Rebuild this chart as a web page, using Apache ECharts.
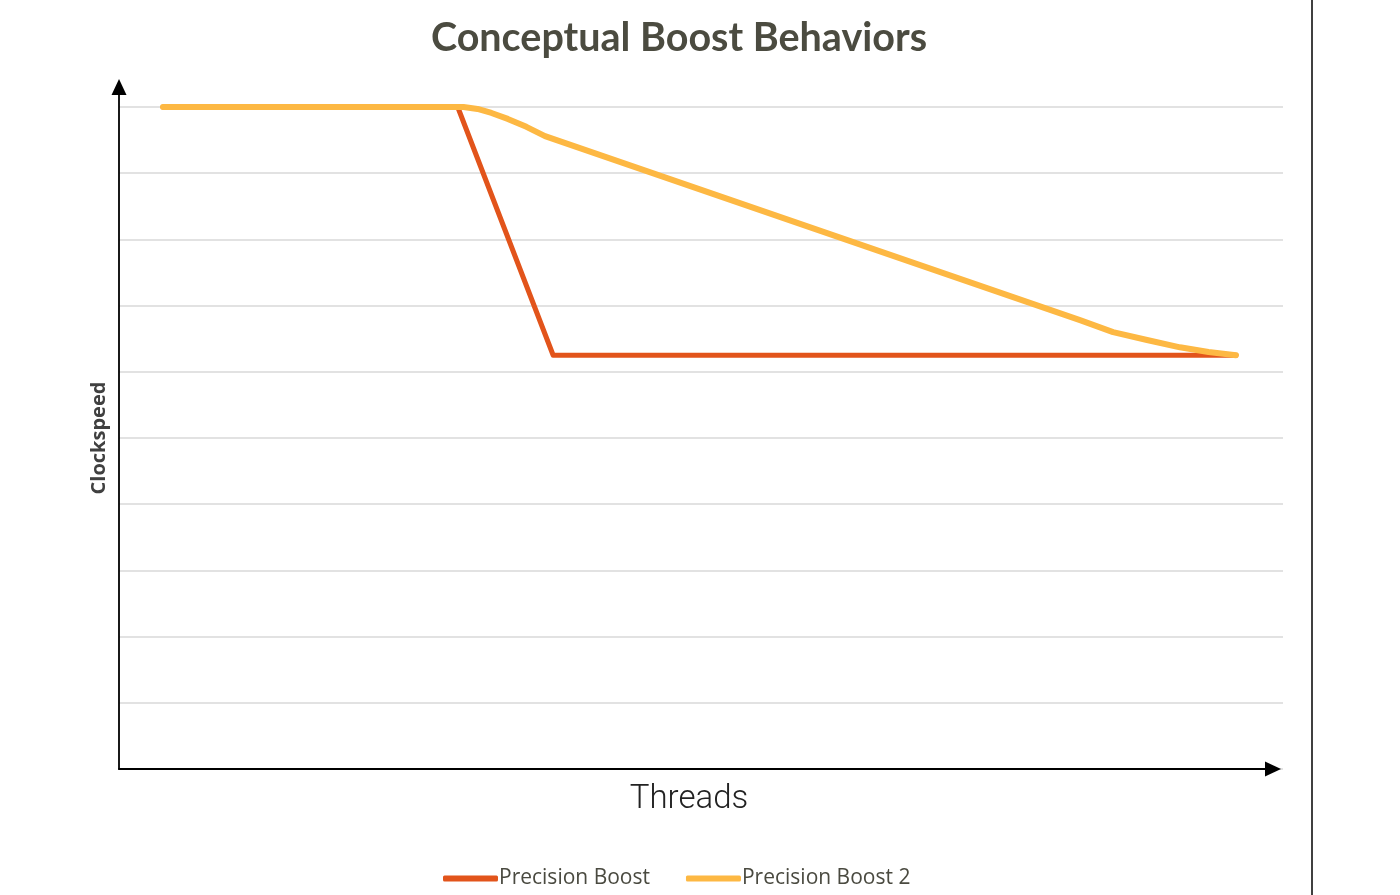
<!DOCTYPE html>
<html>
<head>
<meta charset="utf-8">
<script src="https://cdn.jsdelivr.net/npm/echarts@6/dist/echarts.min.js"></script>
<style>html,body{margin:0;padding:0;background:#fff;}#c{width:1400px;height:895px;}</style>
</head>
<body>
<div id="c"></div>
<script>
const titleText = 'Conceptual Boost Behaviors';
const xName = 'Threads';
const yName = 'Clockspeed';
const seriesNames = ['Precision Boost', 'Precision Boost 2'];
const pbX = [3.78, 29.1, 37.3, 95.96];
const pbY = [10, 10, 6.25, 6.25];
const pb2X = [3.78, 29.6, 30.8, 32.0, 33.4, 35.0, 36.6, 82.56, 85.4, 88.32, 91.15, 93.6, 95.96];
const pb2Y = [10, 10, 9.97, 9.91, 9.82, 9.7, 9.56, 6.78, 6.6, 6.48, 6.37, 6.3, 6.25];

const chart = echarts.init(document.getElementById('c'), null, {renderer: 'canvas'});
const zip = (xs, ys) => xs.map((x, i) => [x, ys[i]]);
const option = {
  backgroundColor: '#ffffff',
  animation: false,
  title: {
    text: titleText, left: 674, top: 13, textAlign: 'center',
    textStyle: {fontFamily: 'Lato', fontWeight: 'bold', fontSize: 39.5, color: '#4b4b40'}
  },
  legend: {
    left: 438, top: 863, itemWidth: 55, itemHeight: 6, itemGap: 36, icon: 'roundRect',
    textStyle: {fontFamily: 'Open Sans', fontSize: 21, color: '#4a4a40', padding: [0, 0, 0, -4]},
    data: seriesNames
  },
  grid: [
    {left: 119, right: 117, top: 107, bottom: 126},
    {left: 119, right: 127, top: 87, bottom: 126}
  ],
  xAxis: [
    {gridIndex: 0, type: 'value', min: 0, max: 100, axisLine: {show: false}, axisTick: {show: false},
     axisLabel: {show: false}, splitLine: {show: false},
     name: xName, nameLocation: 'middle', nameGap: 14,
     nameTextStyle: {fontFamily: 'Roboto', fontWeight: 300, fontSize: 33, color: '#222', padding: [0, 24, 0, 0]}},
    {gridIndex: 1, type: 'value', min: 0, max: 1, z: 10, axisTick: {show: false}, axisLabel: {show: false}, splitLine: {show: false},
     axisLine: {show: true, symbol: ['none', 'triangle'], symbolSize: [15, 16], lineStyle: {color: '#000', width: 1.8}}}
  ],
  yAxis: [
    {gridIndex: 0, type: 'value', min: 0, max: 10, interval: 1, axisLine: {show: false}, axisTick: {show: false},
     axisLabel: {show: false}, splitLine: {show: true, lineStyle: {color: '#e2e2e2', width: 2}},
     name: yName, nameLocation: 'middle', nameGap: 10, nameRotate: 90,
     nameTextStyle: {fontFamily: 'Open Sans', fontWeight: 'bold', fontSize: 20, color: '#404040'}},
    {gridIndex: 1, type: 'value', min: 0, max: 1, z: 10, axisTick: {show: false}, axisLabel: {show: false}, splitLine: {show: false},
     axisLine: {show: true, symbol: ['none', 'triangle'], symbolSize: [15, 16], lineStyle: {color: '#000', width: 1.8}}}
  ],
  series: [
    {name: seriesNames[0], type: 'line', xAxisIndex: 0, yAxisIndex: 0, data: zip(pbX, pbY),
     showSymbol: false, symbol: 'none', color: '#e2541b',
     lineStyle: {width: 5, color: '#e2541b', cap: 'round', join: 'round'}},
    {name: seriesNames[1], type: 'line', xAxisIndex: 0, yAxisIndex: 0, data: zip(pb2X, pb2Y),
     showSymbol: false, symbol: 'none', color: '#fdb843',
     lineStyle: {width: 6, color: '#fdb843', cap: 'round', join: 'round'}}
  ],
  graphic: [
    {type: 'line', shape: {x1: 1312, y1: 0, x2: 1312, y2: 895}, style: {stroke: '#000', lineWidth: 1.5}}
  ]
};
chart.setOption(option);
</script>
</body>
</html>
